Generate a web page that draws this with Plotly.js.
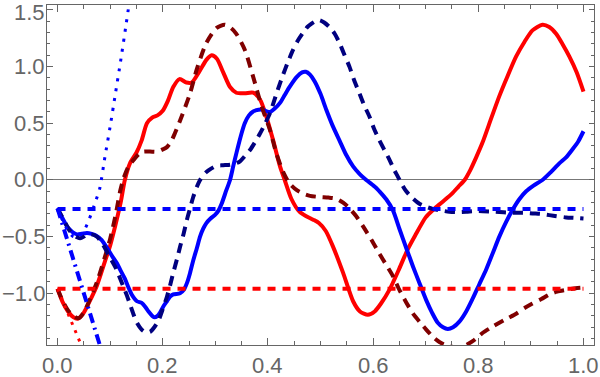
<!DOCTYPE html>
<html>
<head>
<meta charset="utf-8">
<script src="https://cdn.plot.ly/plotly-3.0.1.min.js"></script>
<style>html,body{margin:0;padding:0;background:#fff;}#chart{width:600px;height:377px;}</style>
</head>
<body>
<div id="chart"></div>
<script>
// ---- data ----
const redX = [0,0.01,0.02,0.03,0.038,0.05,0.06,0.075,0.09,0.1,0.11,0.12,0.128,0.138,0.15,0.16,0.17,0.18,0.19,0.2,0.21,0.22,0.232,0.245,0.255,0.27,0.283,0.293,0.303,0.315,0.328,0.34,0.356,0.372,0.385,0.397,0.41,0.423,0.432,0.445,0.46,0.473,0.486,0.497,0.51,0.524,0.543,0.562,0.575,0.59,0.603,0.615,0.631,0.65,0.665,0.68,0.7,0.715,0.73,0.75,0.762,0.774,0.785,0.796,0.808,0.825,0.84,0.856,0.872,0.888,0.903,0.922,0.935,0.948,0.96,0.973,0.987,1.0];
const redY = [-0.96,-1.08,-1.16,-1.21,-1.225,-1.17,-1.08,-0.93,-0.72,-0.58,-0.40,-0.20,0.0,0.15,0.24,0.35,0.50,0.55,0.57,0.61,0.70,0.82,0.89,0.86,0.86,0.96,1.06,1.10,1.07,0.95,0.82,0.77,0.765,0.77,0.71,0.56,0.35,0.12,0.0,-0.17,-0.28,-0.32,-0.35,-0.38,-0.45,-0.59,-0.82,-1.07,-1.16,-1.19,-1.16,-1.09,-0.97,-0.78,-0.62,-0.49,-0.33,-0.26,-0.20,-0.12,-0.06,0.0,0.09,0.2,0.33,0.55,0.74,0.92,1.09,1.22,1.32,1.37,1.35,1.29,1.20,1.09,0.95,0.78];

const maroonX = [0,0.01,0.02,0.03,0.04,0.05,0.06,0.075,0.09,0.1,0.11,0.119,0.126,0.135,0.147,0.155,0.163,0.18,0.19,0.2,0.208,0.216,0.223,0.236,0.252,0.265,0.283,0.302,0.318,0.33,0.34,0.356,0.372,0.388,0.404,0.416,0.43,0.441,0.455,0.467,0.48,0.498,0.515,0.53,0.543,0.555,0.568,0.581,0.597,0.612,0.625,0.638,0.65,0.663,0.676,0.69,0.701,0.715,0.726,0.74,0.755,0.77,0.79,0.808,0.825,0.84,0.856,0.872,0.888,0.903,0.92,0.935,0.95,0.967,0.985,1.0];
const maroonY = [-0.96,-1.07,-1.15,-1.2,-1.22,-1.17,-1.07,-0.9,-0.68,-0.52,-0.32,-0.1,0.02,0.12,0.19,0.23,0.25,0.25,0.25,0.27,0.29,0.34,0.41,0.56,0.765,0.98,1.21,1.34,1.37,1.34,1.29,1.15,0.91,0.65,0.44,0.235,0.06,-0.03,-0.09,-0.12,-0.14,-0.15,-0.155,-0.165,-0.2,-0.25,-0.32,-0.41,-0.53,-0.65,-0.75,-0.85,-0.97,-1.08,-1.18,-1.26,-1.32,-1.39,-1.43,-1.46,-1.475,-1.47,-1.42,-1.35,-1.30,-1.26,-1.22,-1.18,-1.13,-1.09,-1.05,-1.01,-0.985,-0.97,-0.955,-0.95];

const blueX = [0,0.005,0.011,0.018,0.024,0.03,0.037,0.046,0.056,0.065,0.072,0.084,0.097,0.105,0.113,0.12,0.128,0.135,0.141,0.151,0.16,0.167,0.173,0.183,0.19,0.195,0.202,0.208,0.214,0.22,0.233,0.24,0.246,0.252,0.258,0.265,0.271,0.277,0.283,0.291,0.299,0.306,0.312,0.321,0.328,0.334,0.34,0.348,0.356,0.364,0.372,0.382,0.391,0.398,0.404,0.413,0.423,0.432,0.441,0.455,0.465,0.472,0.48,0.489,0.5,0.511,0.523,0.536,0.549,0.562,0.575,0.587,0.598,0.606,0.612,0.625,0.638,0.65,0.663,0.676,0.689,0.701,0.712,0.723,0.733,0.742,0.752,0.764,0.777,0.789,0.802,0.815,0.828,0.84,0.853,0.865,0.878,0.891,0.905,0.922,0.938,0.954,0.967,0.979,0.99,1.0];
const blueY = [-0.25,-0.30,-0.35,-0.41,-0.44,-0.465,-0.48,-0.475,-0.468,-0.475,-0.487,-0.53,-0.62,-0.68,-0.735,-0.8,-0.87,-0.95,-1.01,-1.07,-1.085,-1.12,-1.16,-1.21,-1.2,-1.17,-1.11,-1.07,-1.03,-1.01,-1.0,-0.97,-0.91,-0.82,-0.71,-0.6,-0.5,-0.43,-0.38,-0.34,-0.31,-0.27,-0.21,-0.09,0.0,0.12,0.235,0.38,0.5,0.57,0.605,0.62,0.62,0.605,0.6,0.63,0.68,0.75,0.82,0.91,0.95,0.955,0.93,0.87,0.76,0.62,0.48,0.35,0.22,0.12,0.05,0.0,-0.04,-0.07,-0.1,-0.17,-0.27,-0.43,-0.6,-0.765,-0.92,-1.06,-1.17,-1.26,-1.30,-1.315,-1.3,-1.25,-1.16,-1.05,-0.92,-0.79,-0.64,-0.5,-0.37,-0.265,-0.17,-0.1,-0.05,0.0,0.07,0.147,0.2,0.27,0.34,0.43];

const navyX = [0,0.008,0.015,0.022,0.03,0.037,0.043,0.05,0.056,0.065,0.075,0.085,0.097,0.11,0.119,0.126,0.132,0.138,0.144,0.151,0.16,0.168,0.176,0.184,0.192,0.2,0.208,0.214,0.22,0.227,0.233,0.24,0.246,0.252,0.258,0.265,0.271,0.277,0.283,0.292,0.302,0.315,0.328,0.338,0.347,0.356,0.366,0.375,0.385,0.395,0.404,0.412,0.419,0.429,0.438,0.448,0.457,0.467,0.475,0.483,0.49,0.498,0.507,0.517,0.527,0.536,0.545,0.555,0.564,0.574,0.583,0.593,0.602,0.612,0.622,0.631,0.64,0.647,0.655,0.663,0.675,0.688,0.7,0.713,0.73,0.745,0.76,0.777,0.792,0.808,0.825,0.84,0.856,0.872,0.888,0.903,0.92,0.935,0.95,0.967,0.985,1.0];
const navyY = [-0.25,-0.32,-0.38,-0.44,-0.485,-0.505,-0.515,-0.5,-0.48,-0.48,-0.5,-0.56,-0.66,-0.77,-0.87,-0.95,-1.02,-1.1,-1.18,-1.26,-1.32,-1.345,-1.34,-1.3,-1.24,-1.14,-1.03,-0.93,-0.82,-0.7,-0.59,-0.47,-0.35,-0.25,-0.15,-0.06,0.0,0.04,0.07,0.1,0.125,0.13,0.135,0.145,0.165,0.21,0.265,0.33,0.41,0.5,0.59,0.7,0.8,0.93,1.04,1.15,1.23,1.30,1.35,1.38,1.40,1.41,1.39,1.35,1.29,1.21,1.11,1.0,0.88,0.765,0.66,0.56,0.45,0.35,0.26,0.18,0.09,0.03,-0.04,-0.10,-0.16,-0.21,-0.235,-0.255,-0.27,-0.28,-0.283,-0.28,-0.275,-0.275,-0.278,-0.282,-0.287,-0.29,-0.29,-0.295,-0.30,-0.31,-0.32,-0.33,-0.335,-0.34];

const blueDotX = [0,0.01,0.02,0.03,0.04,0.05,0.06,0.07,0.08,0.09,0.1,0.11,0.12,0.13,0.14];
const blueDotY = [-0.25,-0.36,-0.45,-0.50,-0.50,-0.45,-0.35,-0.22,-0.08,0.2,0.47,0.76,1.05,1.36,1.68];

const blueDashDotX = [0,0.09];
const blueDashDotY = [-0.25,-1.6];

const redDotX = [0,0.06];
const redDotY = [-0.96,-1.62];

const blueLevelX = [0,1];
const blueLevelY = [-0.255,-0.255];
const redLevelX = [0,1];
const redLevelY = [-0.96,-0.96];

const xTickVals = [0,0.2,0.4,0.6,0.8,1.0];
const xTickText = ['0.0','0.2','0.4','0.6','0.8','1.0'];
const yTickVals = [-1.0,-0.5,0.0,0.5,1.0,1.5];
const yTickText = ['\u22121.0','\u22120.5','0.0','0.5','1.0','1.5'];

// ---- traces ----
function tr(x, y, color, width, dash, spline) {
  return {x: x, y: y, type: 'scatter', mode: 'lines',
    line: {color: color, width: width, dash: dash, shape: spline ? 'spline' : 'linear', smoothing: 0.7},
    hoverinfo: 'skip'};
}
const data = [
  tr(redX, redY, '#ff0000', 4, 'solid', true),
  tr(blueX, blueY, '#0000ff', 4, 'solid', true),
  tr(maroonX, maroonY, '#800000', 4, '10px,7px', true),
  tr(navyX, navyY, '#000080', 4, '10px,7px', true),
  tr(blueLevelX, blueLevelY, '#0000ff', 4, '8px,7px', false),
  tr(redLevelX, redLevelY, '#ff0000', 4, '8px,7px', false),
  tr(blueDotX, blueDotY, '#0000ff', 3, '3px,7px', true),
  tr(blueDashDotX, blueDashDotY, '#0000ff', 4, '10px,5px,2px,5px', false),
  tr(redDotX, redDotY, '#ff0000', 3, '3px,6px', false)
];

const tickFont = {family: 'Liberation Sans', size: 22, color: '#666666'};
const annotations = [];
yTickVals.forEach((v, i) => annotations.push({
  text: yTickText[i], xref: 'paper', x: 0, xanchor: 'right', xshift: -1,
  yref: 'y', y: v, yanchor: 'middle', yshift: (v === 1.5 ? -3 : 0),
  showarrow: false, font: tickFont, borderpad: 0
}));
xTickVals.forEach((v, i) => annotations.push({
  text: xTickText[i], xref: 'x', x: v, xanchor: 'center',
  yref: 'paper', y: 0, yanchor: 'top', yshift: -7,
  showarrow: false, font: tickFont, borderpad: 0
}));

const layout = {
  width: 600, height: 377,
  margin: {l: 47, r: 6, t: 5, b: 32, pad: 0},
  paper_bgcolor: '#ffffff', plot_bgcolor: '#ffffff',
  showlegend: false,
  annotations: annotations,
  xaxis: {
    range: [-0.02, 1.02], tickmode: 'array', tickvals: xTickVals, showticklabels: false,
    ticks: 'inside', ticklen: 7, tickwidth: 1, tickcolor: '#666666',
    showline: true, linecolor: '#666666', linewidth: 1, mirror: 'ticks',
    showgrid: false, zeroline: false,
    minor: {dtick: 0.05, tick0: 0, ticks: 'inside', ticklen: 4, tickcolor: '#666666', tickwidth: 1, showgrid: false}
  },
  yaxis: {
    range: [-1.456, 1.544], tickmode: 'array', tickvals: yTickVals, showticklabels: false,
    ticks: 'inside', ticklen: 5.5, tickwidth: 1, tickcolor: '#666666',
    showline: true, linecolor: '#666666', linewidth: 1, mirror: 'ticks',
    showgrid: false, zeroline: true, zerolinecolor: '#777777', zerolinewidth: 1,
    minor: {dtick: 0.1, tick0: 0, ticks: 'inside', ticklen: 3, tickcolor: '#666666', tickwidth: 1, showgrid: false}
  }
};
Plotly.newPlot('chart', data, layout, {displayModeBar: false, staticPlot: true});
</script>
</body>
</html>
